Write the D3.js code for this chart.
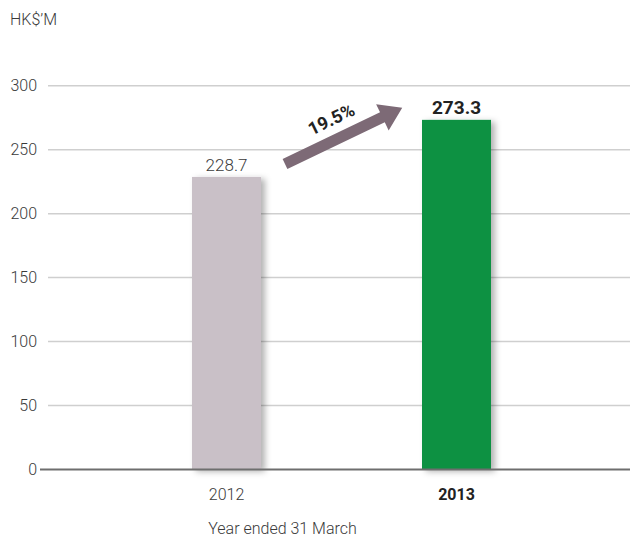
<!DOCTYPE html>
<html><head><meta charset="utf-8">
<script src="https://cdn.jsdelivr.net/npm/d3@7"></script>
<style>body{margin:0;background:#fff}svg{display:block}text{font-family:Roboto,"Liberation Sans",sans-serif}</style>
</head><body>
<svg id="c" width="630" height="539"></svg>
<script>
const categories = ["2012", "2013"];
const values = [228.7, 273.3];
const valueLabels = ["228.7", "273.3"];
const barColors = ["#c9c0c7", "#0d9143"];
const yTicks = [0, 50, 100, 150, 200, 250, 300];
const growthLabel = "19.5%";

const svg = d3.select("#c");
const defs = svg.append("defs");
const f = defs.append("filter").attr("id","sh").attr("x","-20%").attr("y","-20%").attr("width","150%").attr("height","140%");
f.append("feDropShadow").attr("dx",4).attr("dy",2).attr("stdDeviation",3).attr("flood-color","#000").attr("flood-opacity",0.3);

const y = d3.scaleLinear().domain([0,300]).range([469.5,85.7]);
const x = d3.scaleBand().domain(categories).range([111.5,571.5]).paddingInner(0.7).paddingOuter(0.35);

svg.append("g").selectAll("line").data(yTicks.filter(d=>d>0)).join("line")
  .attr("x1",48).attr("x2",630).attr("y1",d=>y(d)).attr("y2",d=>y(d))
  .attr("stroke","#cfcfcf").attr("stroke-width",1.5);

svg.append("g").selectAll("text").data(yTicks).join("text")
  .attr("x",37).attr("y",d=>y(d)+5.5).attr("text-anchor","end")
  .attr("font-size",16).attr("font-weight",300).attr("fill","#3a3a3a").text(d=>d);

svg.append("g").selectAll("rect").data(values).join("rect")
  .attr("x",(d,i)=>x(categories[i])).attr("width",x.bandwidth())
  .attr("y",d=>y(d)).attr("height",d=>y(0)-y(d))
  .attr("fill",(d,i)=>barColors[i]).attr("filter","url(#sh)");

svg.append("line").attr("x1",40).attr("x2",630).attr("y1",y(0)).attr("y2",y(0))
  .attr("stroke","#6e6e6e").attr("stroke-width",2);

svg.append("g").selectAll("text").data(values).join("text")
  .attr("x",(d,i)=>x(categories[i])+x.bandwidth()/2).attr("y",d=>y(d)-6)
  .attr("text-anchor","middle").attr("font-size",(d,i)=>i===1?19:17)
  .attr("font-weight",(d,i)=>i===1?700:300).attr("fill",(d,i)=>i===1?"#222":"#3a3a3a")
  .text((d,i)=>valueLabels[i]);

svg.append("g").selectAll("text").data(categories).join("text")
  .attr("x",d=>x(d)+x.bandwidth()/2).attr("y",500).attr("text-anchor","middle")
  .attr("font-size",16).attr("font-weight",(d,i)=>i===1?700:300).attr("fill",(d,i)=>i===1?"#222":"#3a3a3a")
  .text(d=>d);

svg.append("text").attr("x",282.5).attr("y",534).attr("text-anchor","middle")
  .attr("font-size",16).attr("font-weight",300).attr("fill","#3a3a3a").text("Year ended 31 March");

svg.append("text").attr("x",10).attr("y",25).attr("font-size",16).attr("font-weight",300)
  .attr("fill","#3a3a3a").text("HK$\u2019M");

const ang = -25.6;
const g = svg.append("g").attr("transform",`translate(285,164) rotate(${ang})`);
const L = 130;
g.append("path").attr("d",`M0,-5.5 L${L-22},-5.5 L${L-22},-14.5 L${L},0 L${L-22},14.5 L${L-22},5.5 L0,5.5 Z`)
  .attr("fill","#7d6a76");
svg.append("text").attr("transform",`translate(334,125) rotate(${ang})`).attr("text-anchor","middle")
  .attr("font-size",18).attr("font-weight",700).attr("fill","#222").text(growthLabel);
</script>
</body></html>
